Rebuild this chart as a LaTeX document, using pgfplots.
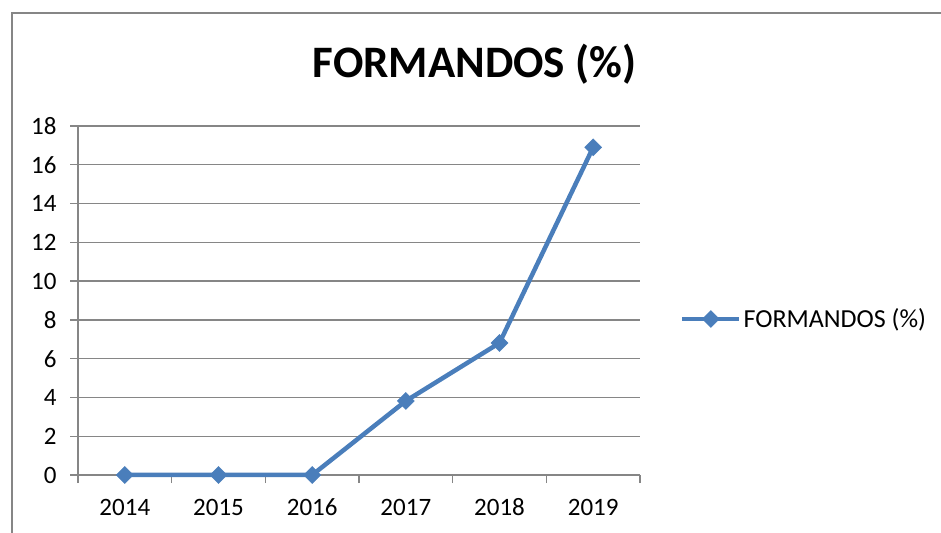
\documentclass[border=0pt]{standalone}
\usepackage{pgfplots}
\pgfplotsset{compat=1.18}
\usepackage{fontspec}
\setmainfont{Carlito}
\definecolor{exblue}{RGB}{74,126,187}
\definecolor{exgray}{RGB}{134,134,134}
\begin{document}
\begin{tikzpicture}
\useasboundingbox (0,0) rectangle (941bp,533bp);
\draw[exgray, line width=1.5bp] (12bp,-5bp) -- (12bp,520bp) -- (950bp,520bp);
\node[font=\fontsize{45bp}{50bp}\selectfont\bfseries, anchor=base, inner sep=0pt] at (474.5bp,455bp) {FORMANDOS (\%)};
\begin{axis}[
  at={(78bp,58bp)}, anchor=south west,
  scale only axis, width=562bp, height=349bp,
  xmin=-0.5, xmax=5.5, ymin=0, ymax=18,
  axis x line*=bottom, axis y line*=left,
  axis line style={exgray, line width=1.4bp, -},
  xtick={0,1,2,3,4,5},
  xticklabels={2014,2015,2016,2017,2018,2019},
  major x tick style={draw=none},
  minor xtick={-0.5,0.5,1.5,2.5,3.5,4.5,5.5},
  minor x tick style={exgray, line width=1.4bp},
  minor tick length=8bp,
  ytick={0,2,...,18},
  y tick style={exgray, line width=1.4bp},
  major tick length=8bp,
  tick align=outside,
  ymajorgrids,
  grid style={exgray, line width=1.4bp},
  ticklabel style={font=\fontsize{25bp}{30bp}\selectfont},
  /pgf/number format/assume math mode=true,
  xticklabel style={yshift=-13bp, text height=16bp, text depth=0bp},
  yticklabel style={xshift=-10bp},
  legend style={draw=none, fill=none, at={(1.071,0.447)}, anchor=west,
    font=\fontsize{26bp}{30bp}\selectfont, inner sep=0pt,
    /tikz/every even column/.append style={column sep=2bp}},
  legend cell align=left,
  legend image code/.code={
    \draw[#1, mark repeat=2, mark phase=2] plot coordinates {(0bp,0bp) (28.5bp,0bp) (57bp,0bp)};
  },
  clip=false,
]
\addplot[exblue, line width=4.5bp, mark=square*, mark size=6bp,
  mark options={rotate=45, solid, fill=exblue, draw=exblue, line width=0.5bp}]
  coordinates {(0,0) (1,0) (2,0) (3,3.82) (4,6.81) (5,16.9)};
\addlegendentry{FORMANDOS (\%)}
\end{axis}
\end{tikzpicture}
\end{document}
